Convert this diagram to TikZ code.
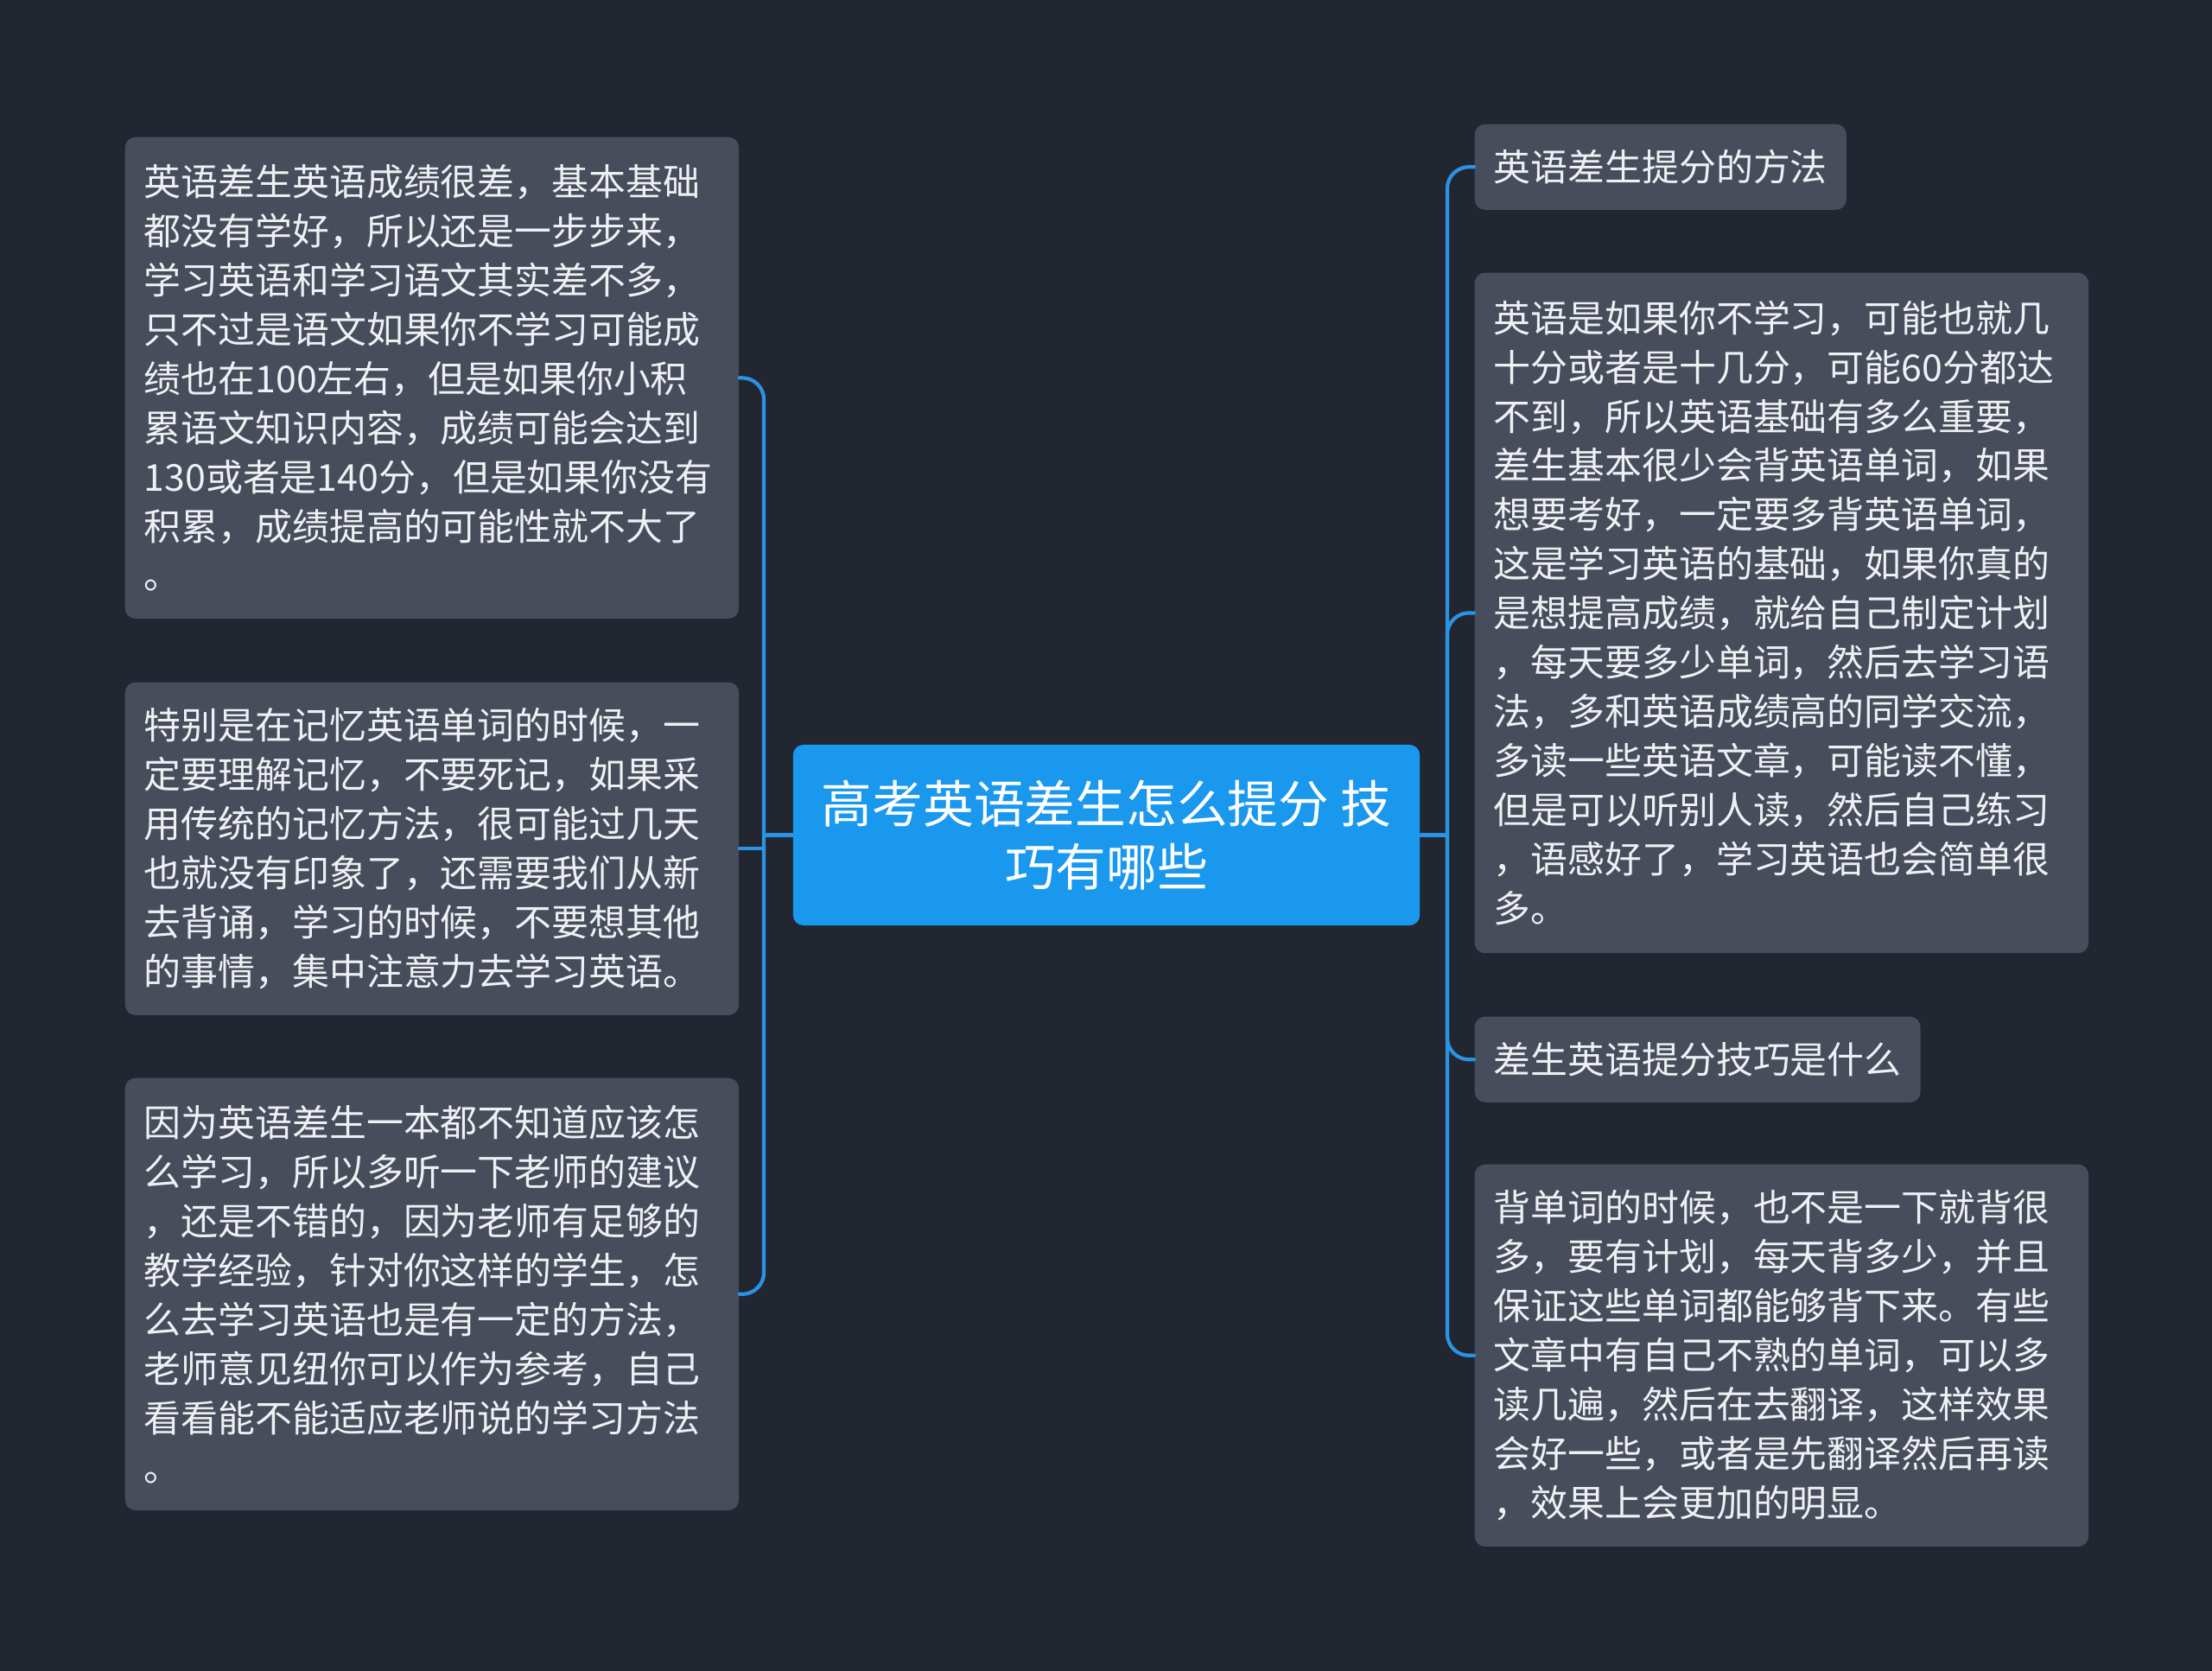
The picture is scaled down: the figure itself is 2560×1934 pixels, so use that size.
\documentclass[tikz,border=0pt]{standalone}
\usepackage{fontspec}
\setmainfont{Noto Sans CJK SC}
\definecolor{bgc}{HTML}{222631}
\definecolor{leaffill}{HTML}{474D5B}
\definecolor{topicfill}{HTML}{1A98EE}
\definecolor{linec}{HTML}{2A93E4}
\definecolor{txt}{HTML}{EEF0F3}
\begin{document}
\begin{tikzpicture}[x=0.01cm,y=-0.01cm,line cap=round,line join=round,
  leaf/.style={anchor=north west,fill=leaffill,rounded corners=0.12cm,text=txt,inner sep=0.22cm,
    align=left,font=\fontsize{12.2pt}{16.2pt}\selectfont},
  wide/.style={leaf,text width=6.66cm,minimum height=#1},
  topic/.style={fill=topicfill,rounded corners=0.12cm,text=white,align=center,minimum width=7.25cm,
    minimum height=2.09cm,font=\fontsize{16.7pt}{20.8pt}\selectfont},
  link/.style={draw=linec,line width=1.2pt}]
  \fill[bgc] (0,0) rectangle (2560,1934);
  \node[topic] (c) at (1280.5,966.5) {高考英语差生怎么提分 技\\巧有哪些};
  \node[wide=5.57cm] (l1) at (144,158) {英语差生英语成绩很差，基本基础\\都没有学好，所以还是一步步来，\\学习英语和学习语文其实差不多，\\只不过是语文如果你不学习可能成\\绩也在100左右，但是如果你小积\\累语文知识内容，成绩可能会达到\\130或者是140分，但是如果你没有\\积累，成绩提高的可能性就不大了\\。};
  \node[wide=3.85cm] (l2) at (144,789) {特别是在记忆英语单词的时候，一\\定要理解记忆，不要死记，如果采\\用传统的记忆方法，很可能过几天\\也就没有印象了，还需要我们从新\\去背诵，学习的时候，不要想其他\\的事情，集中注意力去学习英语。};
  \node[wide=5.00cm] (l3) at (144,1247) {因为英语差生一本都不知道应该怎\\么学习，所以多听一下老师的建议\\，还是不错的，因为老师有足够的\\教学经验，针对你这样的学生，怎\\么去学习英语也是有一定的方法，\\老师意见纽你可以作为参考，自己\\看看能不能适应老师说的学习方法\\。};
  \node[leaf,minimum height=0.99cm] (r1) at (1706,143) {英语差生提分的方法};
  \node[wide=7.87cm] (r2) at (1706,315) {英语是如果你不学习，可能也就几\\十分或者是十几分，可能60分都达\\不到，所以英语基础有多么重要，\\差生基本很少会背英语单词，如果\\想要考好，一定要多背英语单词，\\这是学习英语的基础，如果你真的\\是想提高成绩，就给自己制定计划\\，每天要多少单词，然后去学习语\\法，多和英语成绩高的同学交流，\\多读一些英语文章，可能读不懂，\\但是可以听别人读，然后自己练习\\，语感好了，学习英语也会简单很\\多。};
  \node[leaf,minimum height=0.99cm] (r3) at (1706,1176) {差生英语提分技巧是什么};
  \node[wide=4.42cm] (r4) at (1706,1347) {背单词的时候，也不是一下就背很\\多，要有计划，每天背多少，并且\\保证这些单词都能够背下来。有些\\文章中有自己不熟的单词，可以多\\读几遍，然后在去翻译，这样效果\\会好一些，或者是先翻译然后再读\\，效果上会更加的明显。};
  \coordinate (lj) at ([xshift=-0.33cm]c.west);
  \coordinate (rj) at ([xshift=0.31cm]c.east);
  \draw[link] (c.west) -- (lj);
  \draw[link] (c.east) -- (rj);
  \foreach \n in {l1,l3}
    \draw[link,rounded corners=0.25cm] (lj) |- (\n.east);
  \draw[link] (lj) |- (l2.east);
  \foreach \n in {r1,r2,r3,r4}
    \draw[link,rounded corners=0.25cm] (rj) |- (\n.west);
\end{tikzpicture}
\end{document}
